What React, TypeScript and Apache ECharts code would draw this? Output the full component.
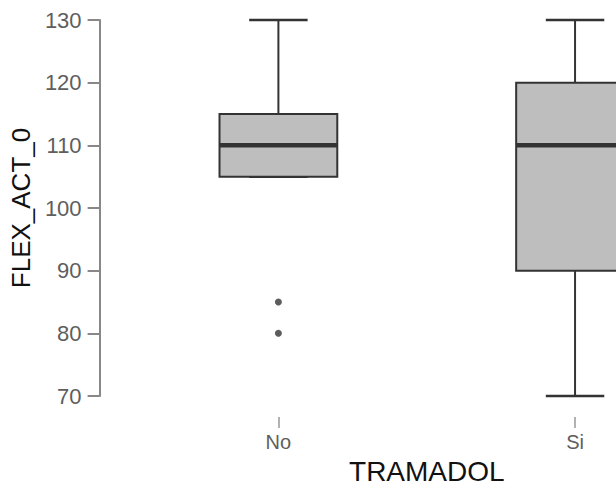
import React, { useEffect, useRef } from "react";
import * as echarts from "echarts";

const categories = ["No", "Si"];
const whiskerLow = [105, 70];
const q1 = [105, 90];
const medians = [110, 110];
const q3 = [115, 120];
const whiskerHigh = [130, 130];
const outliersNo = [85, 80];
const yTicks = { min: 70, max: 130, interval: 10 };

export default function App() {
  const ref = useRef<HTMLDivElement>(null);
  useEffect(() => {
    if (!ref.current) return;
    const chart = echarts.init(ref.current, undefined, { renderer: "svg" });
    const boxData = categories.map((_, i) => [i, whiskerLow[i], q1[i], medians[i], q3[i], whiskerHigh[i]]);
    const outlierData = outliersNo.map((v) => [0, v]);
    const catIdx = categories.map((_, i) => i);
    const stroke = "#333333";
    const option: any = {
      animation: false,
      textStyle: { fontFamily: "Liberation Sans, Arial, sans-serif" },
      grid: { left: 99, top: 20, right: 0, bottom: 93 },
      xAxis: {
        type: "value",
        min: -179 / 297,
        max: 1 + 41 / 297,
        offset: 21,
        axisLine: { show: false, onZero: false },
        axisTick: { show: true, customValues: catIdx, length: 11, lineStyle: { color: "#999999", width: 1.5 } },
        axisLabel: {
          customValues: catIdx,
          margin: 15,
          fontSize: 20,
          color: "#5e5e5e",
          formatter: (v: number) => categories[Math.round(v)] ?? "",
        },
        splitLine: { show: false },
        name: "TRAMADOL",
        nameLocation: "middle",
        nameGap: 40,
        nameTextStyle: { fontSize: 28, color: "#111111", padding: [0, 0, 0, 138] },
      },
      yAxis: {
        type: "value",
        min: yTicks.min,
        max: yTicks.max,
        interval: yTicks.interval,
        axisLine: { show: true, onZero: false, lineStyle: { color: "#888888", width: 2 } },
        axisTick: { show: true, length: 12, lineStyle: { color: "#888888", width: 2 } },
        axisLabel: { margin: 18, fontSize: 22, color: "#5e5e5e" },
        splitLine: { show: false },
        name: "FLEX_ACT_0",
        nameLocation: "middle",
        nameRotate: 90,
        nameGap: 60,
        nameTextStyle: { fontSize: 26, color: "#111111" },
      },
      series: [
        {
          type: "custom",
          data: boxData,
          encode: { x: 0, y: [1, 2, 3, 4, 5] },
          clip: false,
          renderItem: (params: any, api: any) => {
            const idx = api.value(0);
            const pLow = api.coord([idx, api.value(1)]);
            const pQ1 = api.coord([idx, api.value(2)]);
            const pMed = api.coord([idx, api.value(3)]);
            const pQ3 = api.coord([idx, api.value(4)]);
            const pHigh = api.coord([idx, api.value(5)]);
            const band = api.size([1, 0])[0];
            const bw = band * 0.397;
            const cw = band * 0.197;
            const cx = pMed[0];
            const lineStyle = { stroke, lineWidth: 2 };
            return {
              type: "group",
              children: [
                { type: "line", shape: { x1: cx, y1: pQ3[1], x2: cx, y2: pHigh[1] }, style: lineStyle },
                { type: "line", shape: { x1: cx, y1: pQ1[1], x2: cx, y2: pLow[1] }, style: lineStyle },
                { type: "line", shape: { x1: cx - cw / 2, y1: pHigh[1], x2: cx + cw / 2, y2: pHigh[1] }, style: { stroke, lineWidth: 2.5 } },
                { type: "line", shape: { x1: cx - cw / 2, y1: pLow[1], x2: cx + cw / 2, y2: pLow[1] }, style: { stroke, lineWidth: 2.5 } },
                {
                  type: "rect",
                  shape: { x: cx - bw / 2, y: pQ3[1], width: bw, height: pQ1[1] - pQ3[1] },
                  style: { fill: "#bebebe", stroke, lineWidth: 2 },
                },
                { type: "line", shape: { x1: cx - bw / 2, y1: pMed[1], x2: cx + bw / 2, y2: pMed[1] }, style: { stroke, lineWidth: 4.5 } },
              ],
            };
          },
        },
        {
          type: "scatter",
          data: outlierData,
          symbol: "circle",
          symbolSize: 7,
          itemStyle: { color: "#333333" },
        },
      ],
    };
    chart.setOption(option);
    return () => chart.dispose();
  }, []);
  return <div ref={ref} style={{ position: "fixed", left: 0, top: 0, width: 616, height: 490, background: "#fff" }} />;
}
